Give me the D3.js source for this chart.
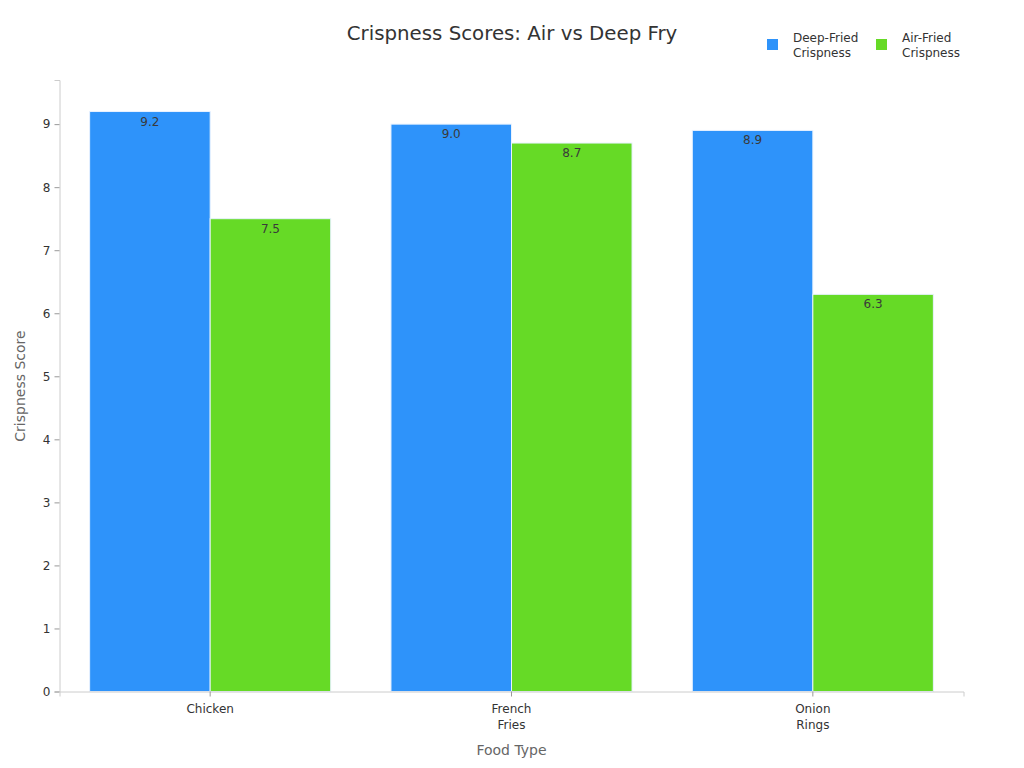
<!DOCTYPE html>
<html>

<head>
  <title>Crispness Scores: Air vs Deep Fry</title>
  <script type="text/javascript" src="https://cdn.jsdelivr.net/npm/d3@7"></script>
  <style>
    body {
      margin: 0;
      background: #fff;
    }

    svg {
      font-family: "DejaVu Sans", sans-serif;
    }
  </style>
</head>

<body>
  <script type="text/javascript">

    // Data
    const foods = [["Chicken"], ["French", "Fries"], ["Onion", "Rings"]];
    const seriesNames = [["Deep-Fried", "Crispness"], ["Air-Fried", "Crispness"]];
    const deepFried = [9.2, 9.0, 8.9];
    const airFried = [7.5, 8.7, 6.3];
    const yTicks = [0, 1, 2, 3, 4, 5, 6, 7, 8, 9];
    const colors = ["#2E93FA", "#66DA26"];

    const w = 1024;
    const h = 768;
    const margin = { top: 80, right: 60.5, bottom: 76.5, left: 59.5 };

    const svg = d3.select("body")
      .append("svg")
      .attr("width", w)
      .attr("height", h);

    const xScale = d3.scaleBand()
      .domain(d3.range(foods.length))
      .range([margin.left, w - margin.right])
      .paddingInner(0.2)
      .paddingOuter(0.1);

    const inner = d3.scaleBand()
      .domain([0, 1])
      .range([0, xScale.bandwidth()]);

    const yScale = d3.scaleLinear()
      .domain([0, 9.7])
      .range([h - margin.bottom, margin.top]);

    // Bars
    const values = [deepFried, airFried];
    values.forEach(function (series, s) {
      svg.selectAll("rect.s" + s)
        .data(series)
        .enter()
        .append("rect")
        .attr("class", "s" + s)
        .attr("x", function (d, i) { return xScale(i) + inner(s); })
        .attr("y", function (d) { return yScale(d); })
        .attr("width", inner.bandwidth())
        .attr("height", function (d) { return yScale(0) - yScale(d); })
        .attr("fill", colors[s])
        .attr("stroke", "#e8f2ff")
        .attr("stroke-width", 1);

      svg.selectAll("text.v" + s)
        .data(series)
        .enter()
        .append("text")
        .attr("class", "v" + s)
        .attr("x", function (d, i) { return xScale(i) + inner(s) + inner.bandwidth() / 2; })
        .attr("y", function (d) { return yScale(d) + 14; })
        .attr("text-anchor", "middle")
        .attr("font-size", "12px")
        .attr("fill", "#3a3a3a")
        .text(function (d) { return d.toFixed(1); });
    });

    // Y axis
    const yAxis = svg.append("g")
      .attr("transform", "translate(" + margin.left + ",0)")
      .call(d3.axisLeft(yScale).tickValues(yTicks).tickSize(5).tickPadding(4));
    yAxis.select(".domain").attr("stroke", "#ccc");
    yAxis.selectAll(".tick line").attr("stroke", "#999");
    yAxis.selectAll(".tick text").attr("font-size", "12px").attr("fill", "#333")
      .attr("font-family", "DejaVu Sans, sans-serif");

    // X axis
    const xAxis = svg.append("g")
      .attr("transform", "translate(0," + yScale(0) + ")")
      .call(d3.axisBottom(xScale).tickSizeOuter(0).tickSize(5).tickFormat(""));
    xAxis.select(".domain").attr("stroke", "#ccc");
    xAxis.selectAll(".tick line").attr("stroke", "#999");

    svg.selectAll("text.xlab")
      .data(foods)
      .enter()
      .append("text")
      .attr("class", "xlab")
      .attr("x", function (d, i) { return xScale(i) + xScale.bandwidth() / 2; })
      .attr("y", yScale(0) + 21)
      .attr("text-anchor", "middle")
      .attr("font-size", "12px")
      .attr("fill", "#333")
      .each(function (d) {
        const t = d3.select(this);
        d.forEach(function (line, k) {
          t.append("tspan")
            .attr("x", t.attr("x"))
            .attr("dy", k === 0 ? 0 : 16)
            .text(line);
        });
      });

    // Axis titles
    svg.append("text")
      .attr("x", (margin.left + w - margin.right) / 2)
      .attr("y", 755)
      .attr("text-anchor", "middle")
      .attr("font-size", "14px")
      .attr("fill", "#666")
      .text("Food Type");

    svg.append("text")
      .attr("transform", "translate(25,386) rotate(-90)")
      .attr("text-anchor", "middle")
      .attr("font-size", "14px")
      .attr("fill", "#666")
      .text("Crispness Score");

    // Title
    svg.append("text")
      .attr("x", 512)
      .attr("y", 40)
      .attr("text-anchor", "middle")
      .attr("font-size", "19.8px")
      .attr("fill", "#333")
      .text("Crispness Scores: Air vs Deep Fry");

    // Legend
    const legend = svg.selectAll("g.legend")
      .data(seriesNames)
      .enter()
      .append("g")
      .attr("class", "legend")
      .attr("transform", function (d, i) { return "translate(" + (767 + i * 109) + ",39)"; });

    legend.append("rect")
      .attr("width", 11)
      .attr("height", 11)
      .attr("fill", function (d, i) { return colors[i]; });

    legend.append("text")
      .attr("x", 26)
      .attr("y", 3)
      .attr("font-size", "12px")
      .attr("fill", "#333")
      .each(function (d) {
        const t = d3.select(this);
        d.forEach(function (line, k) {
          t.append("tspan")
            .attr("x", 26)
            .attr("dy", k === 0 ? 0 : 15)
            .text(line);
        });
      });

  </script>
</body>

</html>
